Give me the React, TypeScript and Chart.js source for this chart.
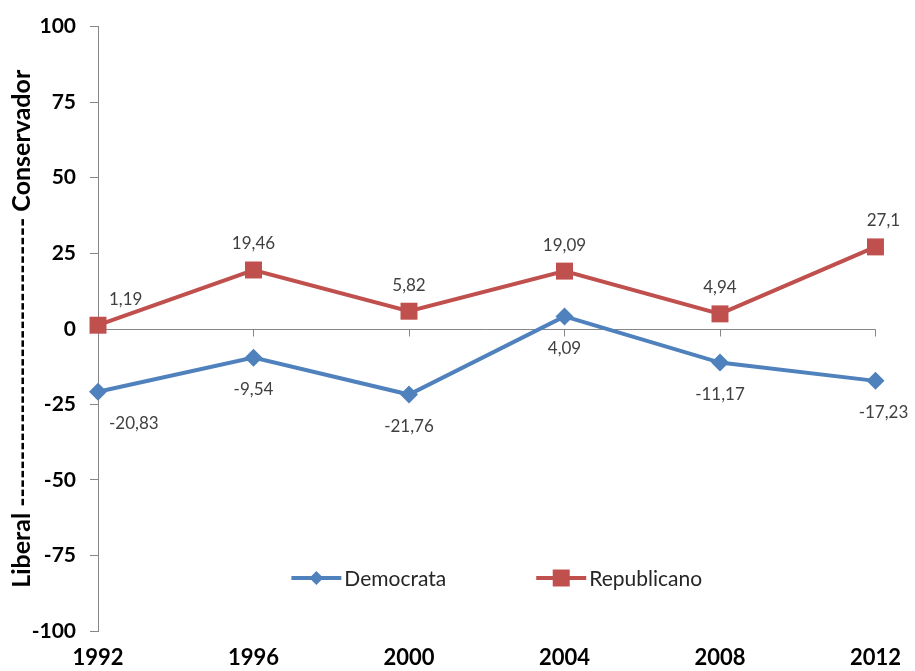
import { useEffect, useRef } from 'react';
import { Chart, registerables } from 'chart.js';

Chart.register(...registerables);

// Ideological position by election year
const years = ['1992', '1996', '2000', '2004', '2008', '2012'];
const democrata = [-20.83, -9.54, -21.76, 4.09, -11.17, -17.23];
const republicano = [1.19, 19.46, 5.82, 19.09, 4.94, 27.1];
const yTicks = [-100, -75, -50, -25, 0, 25, 50, 75, 100];
const axisTitle = 'Liberal ------------------------------- Conservador';

const BLUE = '#4F81BD';
const RED = '#C0504D';
const AXIS_GRAY = '#868686';
const FONT = 'Lato, "Open Sans", sans-serif';

const fmt = (v: number) => String(v).replace('.', ',');

// Horizontal axis line through zero with tick marks at each category
const zeroAxisPlugin = {
  id: 'zeroAxis',
  beforeDatasetsDraw(chart: any) {
    const { ctx, chartArea, scales } = chart;
    const y0 = Math.round(scales.y.getPixelForValue(0)) + 0.5;
    ctx.save();
    ctx.strokeStyle = AXIS_GRAY;
    ctx.lineWidth = 1;
    ctx.beginPath();
    ctx.moveTo(chartArea.left, y0);
    ctx.lineTo(chartArea.right, y0);
    years.forEach((_, i) => {
      const x = Math.round(scales.x.getPixelForValue(i)) + 0.5;
      ctx.moveTo(x, y0);
      ctx.lineTo(x, y0 + 7);
    });
    ctx.stroke();
    ctx.restore();
  },
};

// Value labels: above the points for Republicano, below for Democrata
const valueLabelPlugin = {
  id: 'valueLabels',
  afterDatasetsDraw(chart: any) {
    const { ctx } = chart;
    ctx.save();
    ctx.font = `17px ${FONT}`;
    ctx.fillStyle = '#404040';
    ctx.textBaseline = 'middle';
    chart.data.datasets.forEach((ds: any, di: number) => {
      const meta = chart.getDatasetMeta(di);
      const above = ds.label === 'Republicano';
      meta.data.forEach((pt: any, i: number) => {
        const text = fmt(ds.data[i]);
        const y = pt.y + (above ? -26 : 32);
        if (i === 0) {
          ctx.textAlign = 'left';
          ctx.fillText(text, pt.x + 11, y);
        } else if (i === meta.data.length - 1) {
          ctx.textAlign = 'center';
          ctx.fillText(text, pt.x + 8, y);
        } else {
          ctx.textAlign = 'center';
          ctx.fillText(text, pt.x, y);
        }
      });
    });
    ctx.restore();
  },
};

// Legend drawn inside the plot area
const innerLegendPlugin = {
  id: 'innerLegend',
  afterDraw(chart: any) {
    const { ctx, chartArea } = chart;
    ctx.save();
    ctx.font = `21px ${FONT}`;
    ctx.textBaseline = 'middle';
    ctx.textAlign = 'left';
    const lineLen = 50;
    const textGap = 3;
    const itemGap = 90;
    const items = chart.data.datasets.map((ds: any) => ({
      label: ds.label,
      color: ds.borderColor,
      style: ds.pointStyle,
      w: lineLen + textGap + ctx.measureText(ds.label).width,
    }));
    const total = items.reduce((s: number, it: any) => s + it.w, 0) + itemGap * (items.length - 1);
    let x = (chartArea.left + chartArea.right) / 2 + 10 - total / 2;
    const y = chartArea.bottom - 53;
    items.forEach((it: any) => {
      ctx.strokeStyle = it.color;
      ctx.fillStyle = it.color;
      ctx.lineWidth = 4;
      ctx.beginPath();
      ctx.moveTo(x, y);
      ctx.lineTo(x + lineLen, y);
      ctx.stroke();
      const cx = x + lineLen / 2;
      ctx.beginPath();
      if (it.style === 'rectRot') {
        const r = 7;
        ctx.moveTo(cx, y - r);
        ctx.lineTo(cx + r, y);
        ctx.lineTo(cx, y + r);
        ctx.lineTo(cx - r, y);
        ctx.closePath();
      } else {
        const h = 8.5;
        ctx.rect(cx - h, y - h, 2 * h, 2 * h);
      }
      ctx.fill();
      ctx.fillStyle = '#262626';
      ctx.fillText(it.label, x + lineLen + textGap, y + 1);
      x += it.w + itemGap;
    });
    ctx.restore();
  },
};

export default function App() {
  const canvasRef = useRef<HTMLCanvasElement>(null);

  useEffect(() => {
    if (!canvasRef.current) return;
    const chart = new Chart(canvasRef.current, {
      type: 'line',
      data: {
        labels: years,
        datasets: [
          {
            label: 'Democrata',
            data: democrata,
            borderColor: BLUE,
            backgroundColor: BLUE,
            borderWidth: 4,
            pointStyle: 'rectRot',
            pointRadius: 9,
            pointBorderWidth: 0,
            tension: 0,
            clip: false as any,
          },
          {
            label: 'Republicano',
            data: republicano,
            borderColor: RED,
            backgroundColor: RED,
            borderWidth: 4,
            pointStyle: 'rect',
            pointRadius: 12,
            pointBorderWidth: 0,
            tension: 0,
            clip: false as any,
          },
        ],
      },
      options: {
        animation: false,
        responsive: true,
        maintainAspectRatio: false,
        layout: { padding: { top: 25, right: 32, left: 0, bottom: 0 } },
        plugins: {
          legend: { display: false },
          tooltip: { enabled: false },
        },
        scales: {
          x: {
            type: 'category',
            offset: false,
            grid: { display: false, drawTicks: false },
            border: { display: false },
            ticks: {
              padding: 14,
              color: '#000',
              font: { family: FONT, size: 22, weight: 'bold' },
              maxRotation: 0,
              autoSkip: false,
            },
            afterFit: (s: any) => {
              s.height = 40;
            },
          },
          y: {
            min: -100,
            max: 100,
            afterBuildTicks: (s: any) => {
              s.ticks = yTicks.map((v) => ({ value: v }));
            },
            grid: {
              drawOnChartArea: false,
              drawTicks: true,
              tickLength: 8,
              color: AXIS_GRAY,
            },
            border: { display: true, color: AXIS_GRAY, width: 1 },
            ticks: {
              padding: 14,
              color: '#000',
              font: { family: FONT, size: 21, weight: 'bold' },
              callback: (v: any) => String(v),
            },
            title: {
              display: true,
              text: axisTitle,
              color: '#000',
              font: { family: FONT, size: 25, weight: 'bold' },
              padding: { top: 7, bottom: 0 },
            },
            afterFit: (s: any) => {
              s.width = 98;
            },
          },
        },
      },
      plugins: [zeroAxisPlugin, valueLabelPlugin, innerLegendPlugin],
    });
    return () => chart.destroy();
  }, []);

  return (
    <div style={{ position: 'absolute', left: 0, top: 0, width: 915, height: 671, background: '#fff' }}>
      <canvas ref={canvasRef} />
    </div>
  );
}
